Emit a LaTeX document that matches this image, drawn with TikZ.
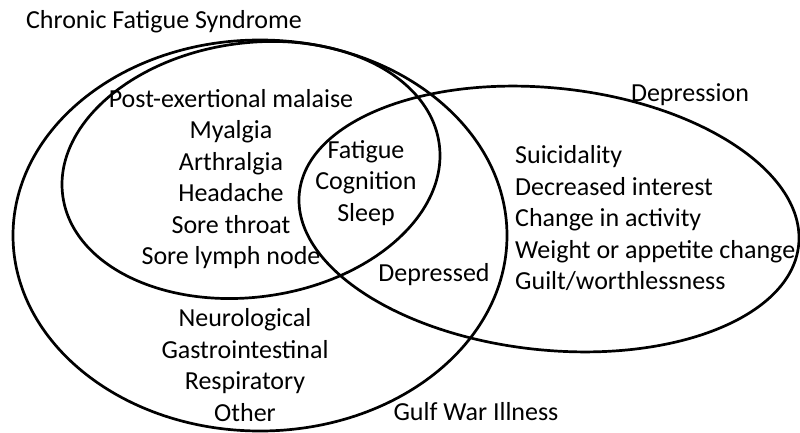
\documentclass[tikz,border=0pt]{standalone}
\usepackage{fontspec}
\setmainfont{Carlito}
\usetikzlibrary{positioning}

\begin{document}
\begin{tikzpicture}[
  x=1pt, y=-1pt,
  set/.style={draw=black, line width=2.7pt},
  lbl/.style={font=\fontsize{26}{31.5}\selectfont, inner sep=0pt, align=center},
  lst/.style={lbl, align=left},
]
  \useasboundingbox (0,0) rectangle (800,433);

  %% Die drei Mengen
  \draw[set] (260,235.5) ellipse [x radius=247, y radius=195.5];          % Gulf War Illness
  \draw[set] (251,170) ellipse [x radius=190, y radius=127, rotate=8];   % CFS
  \draw[set] (549,219) ellipse [x radius=251, y radius=131, rotate=-6];  % Depression

  %% Namen der Mengen
  \node[lbl] (cfsname) at (164,22)  {Chronic Fatigue Syndrome};
  \node[lbl] (depname) at (690,95)  {Depression};
  \node[lbl] (gwiname) at (476,412) {Gulf War Illness};

  %% Symptome je Bereich
  \node[lbl] (cfslist) at (231,179)
    {Post-exertional malaise\\Myalgia\\Arthralgia\\Headache\\Sore throat\\Sore lymph node};
  \node[lbl] (core) at (366,183) {Fatigue\\Cognition\\Sleep};
  \node[lbl] (depd) at (434,275) {Depressed};
  \node[lst, anchor=west] (deplist) at (515,218.5)
    {Suicidality\\Decreased interest\\Change in activity\\Weight or appetite change\\Guilt/worthlessness};
  \node[lbl] (gwilist) at (245,365)
    {Neurological\\Gastrointestinal\\Respiratory\\Other};

\end{tikzpicture}
\end{document}
